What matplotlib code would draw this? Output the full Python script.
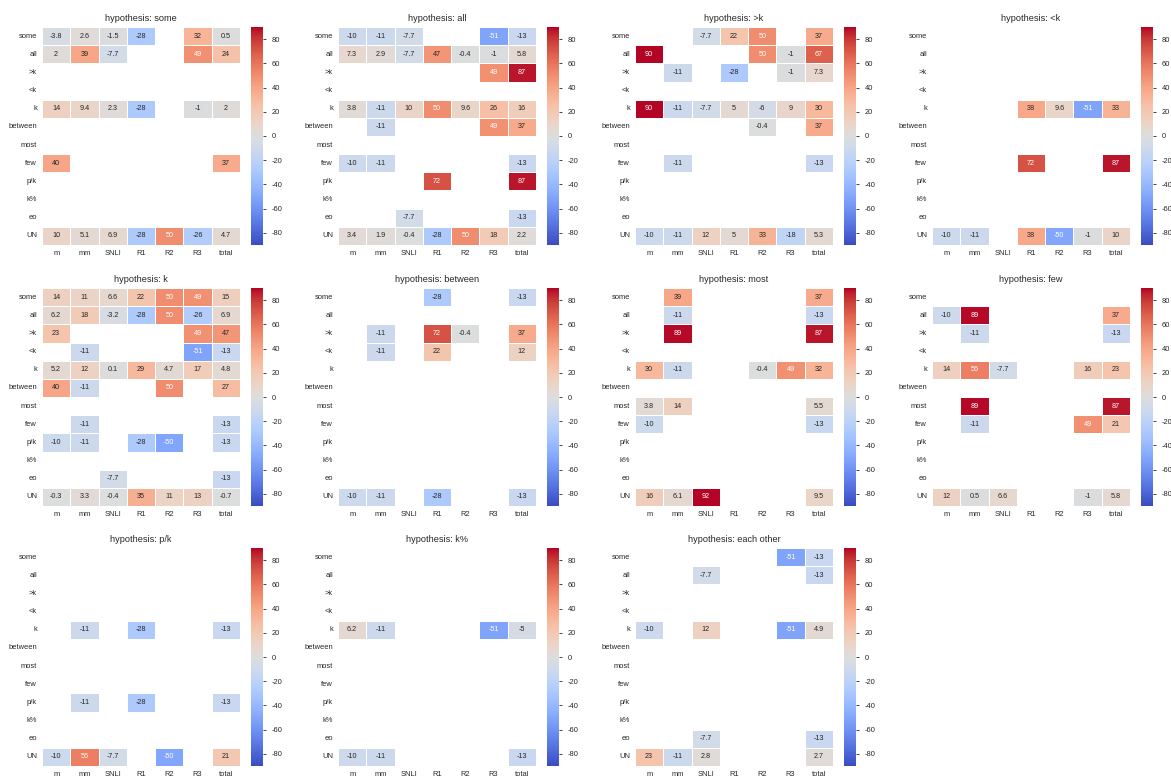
import numpy as np
import matplotlib
matplotlib.use('Agg')
import matplotlib.pyplot as plt
import seaborn as sns

N = np.nan
columns = ['m', 'mm', 'SNLI', 'R1', 'R2', 'R3', 'total']
rows = ['some', 'all', '>k', '<k', 'k', 'between', 'most', 'few', 'p/k', 'k%', 'eo', 'UN']

some_vals = [
    [-3.8, 2.6, -1.5, -28, N, 32, 0.5],
    [2, 39, -7.7, N, N, 49, 24],
    [N, N, N, N, N, N, N],
    [N, N, N, N, N, N, N],
    [14, 9.4, 2.3, -28, N, -1, 2],
    [N, N, N, N, N, N, N],
    [N, N, N, N, N, N, N],
    [40, N, N, N, N, N, 37],
    [N, N, N, N, N, N, N],
    [N, N, N, N, N, N, N],
    [N, N, N, N, N, N, N],
    [10, 5.1, 6.9, -28, 50, -26, 4.7],
]

all_vals = [
    [-10, -11, -7.7, N, N, -51, -13],
    [7.3, 2.9, -7.7, 47, -0.4, -1, 5.8],
    [N, N, N, N, N, 49, 87],
    [N, N, N, N, N, N, N],
    [3.8, -11, 10, 50, 9.6, 26, 16],
    [N, -11, N, N, N, 49, 37],
    [N, N, N, N, N, N, N],
    [-10, -11, N, N, N, N, -13],
    [N, N, N, 72, N, N, 87],
    [N, N, N, N, N, N, N],
    [N, N, -7.7, N, N, N, -13],
    [3.4, 1.9, -0.4, -28, 50, 18, 2.2],
]

gtk_vals = [
    [N, N, -7.7, 22, 50, N, 37],
    [90, N, N, N, 50, -1, 67],
    [N, -11, N, -28, N, -1, 7.3],
    [N, N, N, N, N, N, N],
    [90, -11, -7.7, 5, -6, 9, 30],
    [N, N, N, N, -0.4, N, 37],
    [N, N, N, N, N, N, N],
    [N, -11, N, N, N, N, -13],
    [N, N, N, N, N, N, N],
    [N, N, N, N, N, N, N],
    [N, N, N, N, N, N, N],
    [-10, -11, 12, 5, 33, -18, 5.3],
]

ltk_vals = [
    [N, N, N, N, N, N, N],
    [N, N, N, N, N, N, N],
    [N, N, N, N, N, N, N],
    [N, N, N, N, N, N, N],
    [N, N, N, 38, 9.6, -51, 33],
    [N, N, N, N, N, N, N],
    [N, N, N, N, N, N, N],
    [N, N, N, 72, N, N, 87],
    [N, N, N, N, N, N, N],
    [N, N, N, N, N, N, N],
    [N, N, N, N, N, N, N],
    [-10, -11, N, 38, -50, -1, 10],
]

k_vals = [
    [14, 11, 6.6, 22, 50, 49, 15],
    [6.2, 18, -3.2, -28, 50, -26, 6.9],
    [23, N, N, N, N, 49, 47],
    [N, -11, N, N, N, -51, -13],
    [5.2, 12, 0.1, 29, 4.7, 17, 4.8],
    [40, -11, N, N, 50, N, 27],
    [N, N, N, N, N, N, N],
    [N, -11, N, N, N, N, -13],
    [-10, -11, N, -28, -50, N, -13],
    [N, N, N, N, N, N, N],
    [N, N, -7.7, N, N, N, -13],
    [-0.3, 3.3, -0.4, 35, 11, 13, -0.7],
]

between_vals = [
    [N, N, N, -28, N, N, -13],
    [N, N, N, N, N, N, N],
    [N, -11, N, 72, -0.4, N, 37],
    [N, -11, N, 22, N, N, 12],
    [N, N, N, N, N, N, N],
    [N, N, N, N, N, N, N],
    [N, N, N, N, N, N, N],
    [N, N, N, N, N, N, N],
    [N, N, N, N, N, N, N],
    [N, N, N, N, N, N, N],
    [N, N, N, N, N, N, N],
    [-10, -11, N, -28, N, N, -13],
]

most_vals = [
    [N, 39, N, N, N, N, 37],
    [N, -11, N, N, N, N, -13],
    [N, 89, N, N, N, N, 87],
    [N, N, N, N, N, N, N],
    [30, -11, N, N, -0.4, 49, 32],
    [N, N, N, N, N, N, N],
    [3.8, 14, N, N, N, N, 5.5],
    [-10, N, N, N, N, N, -13],
    [N, N, N, N, N, N, N],
    [N, N, N, N, N, N, N],
    [N, N, N, N, N, N, N],
    [16, 6.1, 92, N, N, N, 9.5],
]

few_vals = [
    [N, N, N, N, N, N, N],
    [-10, 89, N, N, N, N, 37],
    [N, -11, N, N, N, N, -13],
    [N, N, N, N, N, N, N],
    [14, 56, -7.7, N, N, 16, 23],
    [N, N, N, N, N, N, N],
    [N, 89, N, N, N, N, 87],
    [N, -11, N, N, N, 49, 21],
    [N, N, N, N, N, N, N],
    [N, N, N, N, N, N, N],
    [N, N, N, N, N, N, N],
    [12, 0.5, 6.6, N, N, -1, 5.8],
]

pk_vals = [
    [N, N, N, N, N, N, N],
    [N, N, N, N, N, N, N],
    [N, N, N, N, N, N, N],
    [N, N, N, N, N, N, N],
    [N, -11, N, -28, N, N, -13],
    [N, N, N, N, N, N, N],
    [N, N, N, N, N, N, N],
    [N, N, N, N, N, N, N],
    [N, -11, N, -28, N, N, -13],
    [N, N, N, N, N, N, N],
    [N, N, N, N, N, N, N],
    [-10, 56, -7.7, N, -50, N, 21],
]

kpct_vals = [
    [N, N, N, N, N, N, N],
    [N, N, N, N, N, N, N],
    [N, N, N, N, N, N, N],
    [N, N, N, N, N, N, N],
    [6.2, -11, N, N, N, -51, -5],
    [N, N, N, N, N, N, N],
    [N, N, N, N, N, N, N],
    [N, N, N, N, N, N, N],
    [N, N, N, N, N, N, N],
    [N, N, N, N, N, N, N],
    [N, N, N, N, N, N, N],
    [-10, -11, N, N, N, N, -13],
]

eo_vals = [
    [N, N, N, N, N, -51, -13],
    [N, N, -7.7, N, N, N, -13],
    [N, N, N, N, N, N, N],
    [N, N, N, N, N, N, N],
    [-10, N, 12, N, N, -51, 4.9],
    [N, N, N, N, N, N, N],
    [N, N, N, N, N, N, N],
    [N, N, N, N, N, N, N],
    [N, N, N, N, N, N, N],
    [N, N, N, N, N, N, N],
    [N, N, -7.7, N, N, N, -13],
    [23, -11, 2.8, N, N, N, 2.7],
]

hypotheses = ['some', 'all', '>k', '<k', 'k', 'between', 'most', 'few', 'p/k', 'k%', 'each other']
panel_data = [some_vals, all_vals, gtk_vals, ltk_vals, k_vals, between_vals,
              most_vals, few_vals, pk_vals, kpct_vals, eo_vals]

sns.set_theme(style='white')
plt.rcParams['font.family'] = ['Liberation Sans', 'DejaVu Sans']
plt.rcParams['axes.unicode_minus'] = False

W, H = 1171, 776
fig = plt.figure(figsize=(W / 100, H / 100), dpi=100)

# pixel layout of the grid (heatmap left / top edges)
lefts = [42, 338, 635, 932]
tops = [27, 288, 548]
hm_w, hm_h = 198, 218

for i, (name, vals) in enumerate(zip(hypotheses, panel_data)):
    r, c = divmod(i, 4)
    x0, y0 = lefts[c], tops[r]
    ax = fig.add_axes([x0 / W, 1 - (y0 + hm_h) / H, hm_w / W, hm_h / H])
    cax = fig.add_axes([(x0 + 209) / W, 1 - (y0 + hm_h) / H, 12 / W, hm_h / H])
    sns.heatmap(np.array(vals, dtype=float), ax=ax, cbar_ax=cax, cmap='coolwarm',
                vmin=-90, vmax=90, annot=True, annot_kws={'size': 5.2},
                linewidths=0.6, linecolor='white',
                xticklabels=columns, yticklabels=rows)
    ax.set_title('hypothesis: ' + name, fontsize=6.6, pad=4)
    ax.tick_params(axis='both', labelsize=5.4, length=0)
    ax.tick_params(axis='y', rotation=0)
    ax.tick_params(axis='x', rotation=0)
    cax.tick_params(labelsize=5.4, length=2.5, width=0.6)
    cax.set_yticks([-80, -60, -40, -20, 0, 20, 40, 60, 80])

fig.savefig('out.png', dpi=100)
